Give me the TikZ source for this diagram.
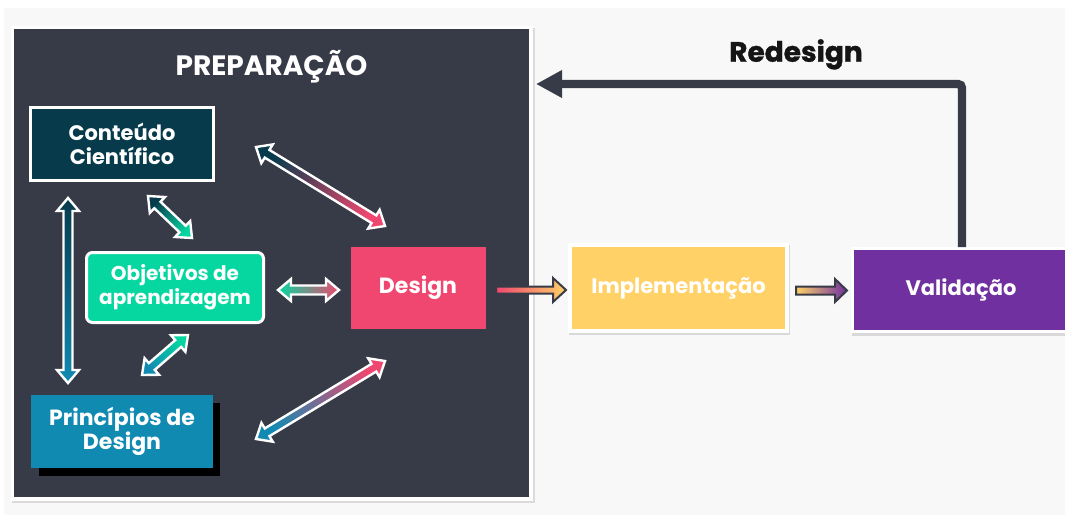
\documentclass[tikz,border=0pt]{standalone}
\usepackage{fontspec}
\setmainfont{Poppins}
\newfontfamily\heavyfont{Poppins}[BoldFeatures={FakeBold=1.2}]
\usetikzlibrary{calc,arrows.meta}
\definecolor{bgdark}{HTML}{373A47}
\definecolor{lightbg}{HTML}{F8F8F8}
\definecolor{cteal}{HTML}{073B4C}
\definecolor{cgreen}{HTML}{06D6A0}
\definecolor{cpink}{HTML}{EF476F}
\definecolor{cblue}{HTML}{118AB2}
\definecolor{cyellow}{HTML}{FFD166}
\definecolor{cpurple}{HTML}{7030A0}
\definecolor{ink}{HTML}{151515}
% double fat arrow: a, b, start colour, end colour, shading angle
\newcommand\fatdbl[5]{%
  \shadedraw[draw=white, line width=2.4pt, line join=miter,
    bottom color=#3, top color=#4, shading angle=#5]
  (#1) -- ($(#1)!13pt!(#2)!11pt!90:(#2)$) -- ($(#1)!13pt!(#2)!4.5pt!90:(#2)$)
  -- ($(#2)!13pt!(#1)!4.5pt!-90:(#1)$) -- ($(#2)!13pt!(#1)!11pt!-90:(#1)$)
  -- (#2) -- ($(#2)!13pt!(#1)!11pt!90:(#1)$) -- ($(#2)!13pt!(#1)!4.5pt!90:(#1)$)
  -- ($(#1)!13pt!(#2)!4.5pt!-90:(#2)$) -- ($(#1)!13pt!(#2)!11pt!-90:(#2)$) -- cycle;}
% single fat arrow: a, b, start colour, end colour, shading angle, shaft half, head half, head length
\newcommand\fatone[8]{%
  \shadedraw[draw=bgdark, line width=2pt, line join=miter,
    bottom color=#3, top color=#4, shading angle=#5]
  ($(#1)!#6!90:(#2)$) -- ($(#2)!#8!(#1)!#6!-90:(#1)$) -- ($(#2)!#8!(#1)!#7!-90:(#1)$)
  -- (#2) -- ($(#2)!#8!(#1)!#7!90:(#1)$) -- ($(#2)!#8!(#1)!#6!90:(#1)$)
  -- ($(#1)!#6!-90:(#2)$) -- cycle;}
\begin{document}
\begin{tikzpicture}[x=1pt,y=-1pt,
  box/.style={inner sep=0pt, align=center, text=white,
    font=\bfseries\fontsize{21}{24}\selectfont},
  bigbox/.style={inner sep=0pt, align=center, text=white,
    font=\bfseries\fontsize{21}{24}\selectfont}]
\useasboundingbox (0,0) rectangle (1065,515);
\fill[white] (0,0) rectangle (1065,515);
\fill[lightbg] (4,8) rectangle (1065,515);
% panel
\fill[black!14] (12,28) rectangle (535,503);
\node[draw=white, line width=3.5pt, fill=bgdark, minimum width=518.5pt, minimum height=471.5pt, inner sep=0pt] (panel) at (271.5,263) {};
\node[anchor=base, text=white, font=\bfseries\fontsize{28}{30}\selectfont] (title) at (271.5,75) {PREPARAÇÃO};
% boxes
\node[box, draw=white, line width=3pt, fill=cteal, minimum width=183pt, minimum height=73pt] (cont) at (122,144) {Conteúdo\\Científico};
\node[box, font=\bfseries\fontsize{20}{24}\selectfont, draw=white, line width=3pt, fill=cgreen, rounded corners=6pt, minimum width=177pt, minimum height=70pt] (obj) at (175,287.5) {Objetivos de\\aprendizagem};
\fill[black] (39,403) rectangle (220,476);
\node[box, font=\bfseries\fontsize{22}{24}\selectfont, fill=cblue, minimum width=182pt, minimum height=73pt] (princ) at (122,431.5) {Princípios de\\Design};
\node[bigbox, font=\bfseries\fontsize{22}{24}\selectfont, fill=cpink, minimum width=135pt, minimum height=82pt] (design) at (418,288) {Design};
\fill[black!15] (569,245) rectangle (790,335);
\node[bigbox, draw=white, line width=4pt, fill=cyellow, minimum width=217pt, minimum height=86pt] (impl) at (678.5,288) {Implementação};
\fill[black!15] (852,249) rectangle (1072,336);
\node[bigbox, draw=white, line width=3pt, fill=cpurple, minimum width=217pt, minimum height=83pt] (valid) at (961,290) {Validação};
% arrow end points
\coordinate (a1s) at (256,147); \coordinate (a1e) at (385,226);
\coordinate (a2s) at (148,196); \coordinate (a2e) at (192,238);
\coordinate (a3s) at (68,198);  \coordinate (a3e) at (68,383);
\coordinate (a4s) at (278,290); \coordinate (a4e) at (339,290);
\coordinate (a5s) at (188,335); \coordinate (a5e) at (142,375);
\coordinate (a6s) at (256,439); \coordinate (a6e) at (385,361);
\coordinate (s1s) at (496,290); \coordinate (s1e) at (566,290);
\coordinate (s2s) at (796,290.5); \coordinate (s2e) at (847,290.5);
% double arrows (angle = canvas direction - 90)
\fatdbl{a1s}{a1e}{cteal}{cpink}{-121.9}
\fatdbl{a2s}{a2e}{cteal}{cgreen}{-133.7}
\fatdbl{a3s}{a3e}{cteal}{cblue}{-180}
\fatdbl{a4s}{a4e}{cgreen}{cpink}{-90}
\fatdbl{a5s}{a5e}{cgreen}{cblue}{131.2}
\fatdbl{a6s}{a6e}{cblue}{cpink}{-58.7}
% single arrows
\fatone{s1s}{s1e}{cpink}{cyellow}{-90}{3.5pt}{12pt}{13pt}
\fatone{s2s}{s2e}{cyellow}{cpurple}{-90}{4pt}{11.5pt}{12pt}
% redesign loop
\coordinate (rdstart) at (962,247);
\coordinate (rdtip) at (536,84);
\draw[line width=8.4pt, bgdark, rounded corners=4pt, -{Triangle[length=26pt,width=26pt]}] (rdstart) |- (rdtip);
\node[anchor=base, text=ink, font=\heavyfont\bfseries\fontsize{28}{30}\selectfont] (rdlabel) at (796,61.7) {Redesign};
\end{tikzpicture}
\end{document}
